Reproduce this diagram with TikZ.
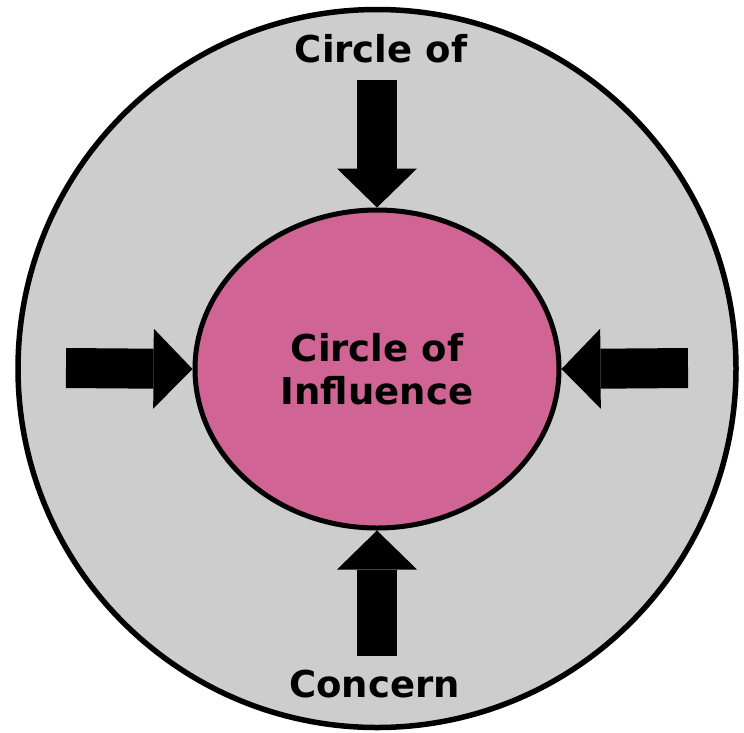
\documentclass[tikz,border=0pt]{standalone}
\usepackage{fontspec}
\setmainfont{DejaVu Sans}
\usepackage{xcolor}
\usepackage{tikz}
\usetikzlibrary{shapes.geometric, arrows.meta}

\definecolor{concerngray}{RGB}{205,205,205}
\definecolor{influencepink}{RGB}{208,100,148}

\begin{document}
\begin{tikzpicture}[x=1pt, y=-1pt,
  every node/.style={inner sep=0pt},
  lbl/.style={font=\fontsize{37}{43}\selectfont\bfseries, align=center},
  push/.style={-{Triangle[length=39pt, width=80pt, line width=0pt]},
               line width=40pt, black}]
\useasboundingbox (0,0) rectangle (744,732);
% outer circle
\draw[line width=5.5pt, fill=concerngray] (377,368.5) circle[radius=359pt];
\node[lbl, anchor=base] (tconcern) at (381,62) {Circle of};
\node[lbl, anchor=base] (bconcern) at (374.5,697) {Concern};
% inner ellipse
\node[ellipse, draw, line width=5pt, fill=influencepink,
      minimum width=364pt, minimum height=318pt, lbl] (infl) at (377,369)
  {Circle of\\Influence};
% arrows pushing in
\coordinate (ftop) at (377,80);
\coordinate (fbot) at (377,656);
\coordinate (fleft) at (66,368);
\coordinate (fright) at (688,368);
\draw[push] (ftop) -- (infl.north);
\draw[push] (fbot) -- (infl.south);
\draw[push] (fleft) -- (infl.west);
\draw[push] (fright) -- (infl.east);
\end{tikzpicture}
\end{document}
